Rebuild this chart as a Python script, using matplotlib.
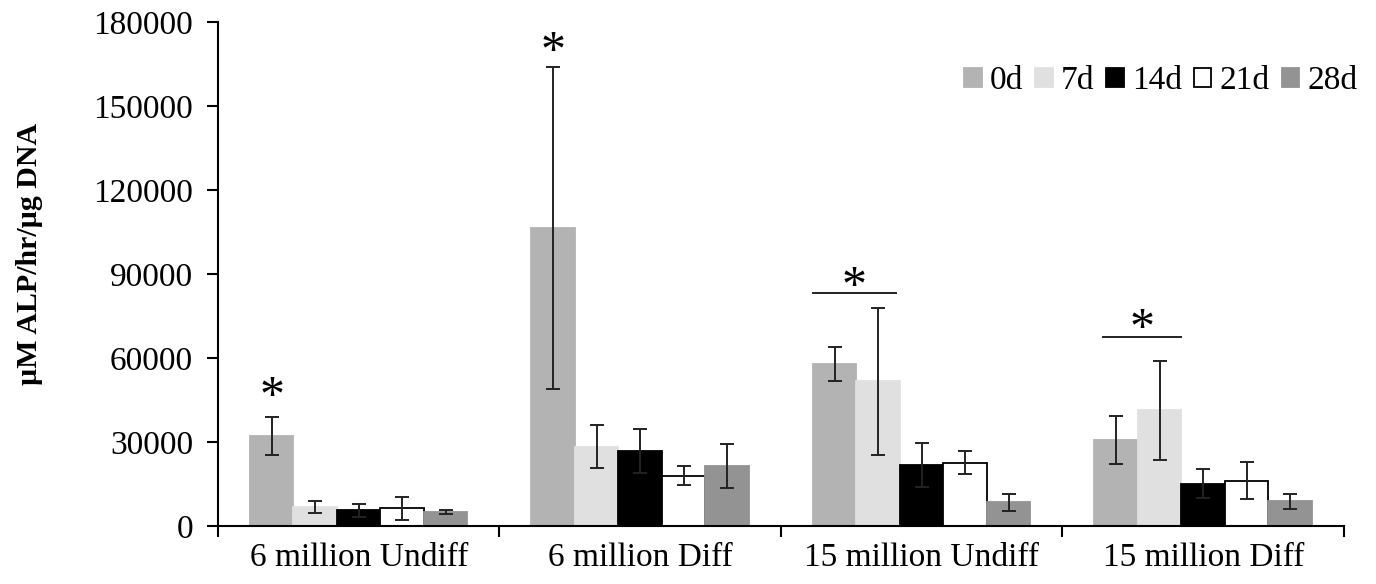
import matplotlib
matplotlib.use("Agg")
import matplotlib.pyplot as plt
import numpy as np

groups = ["6 million Undiff", "6 million Diff", "15 million Undiff", "15 million Diff"]
series = ["0d", "7d", "14d", "21d", "28d"]
vals_0d = [32000, 106500, 57900, 30700]
vals_7d = [6800, 28300, 51700, 41300]
vals_14d = [5600, 26900, 21800, 15100]
vals_21d = [6300, 18000, 22600, 16200]
vals_28d = [5000, 21400, 8500, 8800]
err_0d = [6800, 57500, 6200, 8700]
err_7d = [2100, 7600, 26200, 17800]
err_14d = [2300, 7900, 8000, 5100]
err_21d = [4200, 3500, 4200, 6700]
err_28d = [700, 8000, 3100, 2800]
yticks = [0, 30000, 60000, 90000, 120000, 150000, 180000]

values = [vals_0d, vals_7d, vals_14d, vals_21d, vals_28d]
errors = [err_0d, err_7d, err_14d, err_21d, err_28d]
faces = ["#b3b3b3", "#e0e0e0", "#000000", "#ffffff", "#939393"]
edges = ["#b3b3b3", "#e0e0e0", "#000000", "#000000", "#939393"]

plt.rcParams['font.family'] = ['Liberation Serif', 'DejaVu Serif']
fig = plt.figure(figsize=(13.76, 5.84), dpi=100)
ax = fig.add_axes([0.1584, 0.0993, 0.8183, 0.863])

x = np.arange(len(groups))
w = 0.1545
for i, s in enumerate(series):
    pos = x + (i - 2) * w
    ax.bar(pos, values[i], width=w, color=faces[i], edgecolor=edges[i],
           linewidth=1.3, label=s, zorder=2)
    ax.errorbar(pos, values[i], yerr=errors[i], fmt='none', ecolor='#222222',
                elinewidth=1.4, capsize=5, capthick=1.4, zorder=3)

ax.set_xlim(-0.5, len(groups) - 0.5)
ax.set_ylim(0, 180000)
ax.set_yticks(yticks)
ax.set_yticklabels([str(t) for t in yticks], fontsize=24)
ax.set_xticks(np.arange(len(groups) + 1) - 0.5)
ax.set_xticklabels([])
ax.set_xticks(x, minor=True)
ax.set_xticklabels(groups, minor=True, fontsize=24)
ax.tick_params(axis='x', which='minor', length=0, pad=12)
ax.tick_params(axis='x', which='major', direction='out', length=8, width=1.5)
ax.tick_params(axis='y', direction='out', length=8, width=1.5, pad=10)
for sp in ['top', 'right']:
    ax.spines[sp].set_visible(False)
for sp in ['left', 'bottom']:
    ax.spines[sp].set_linewidth(1.5)

ax.set_ylabel("µM ALP/hr/µg DNA", fontsize=21.5, fontweight='bold')
ax.yaxis.set_label_coords(-0.155, 0.54)

# significance marks
ax.text(x[0] - 2 * w, 37500, "*", fontsize=36, ha='center', va='bottom')
ax.text(x[1] - 2 * w, 160700, "*", fontsize=36, ha='center', va='bottom')
ax.plot([x[2] - 2.5 * w, x[2] - 0.6 * w], [83200, 83200], color='#222222', lw=1.4)
ax.text(x[2] - 1.55 * w, 76800, "*", fontsize=36, ha='center', va='bottom')
ax.plot([x[3] - 2.3 * w, x[3] - 0.5 * w], [67500, 67500], color='#222222', lw=1.4)
ax.text(x[3] - 1.4 * w, 61800, "*", fontsize=36, ha='center', va='bottom')

leg = ax.legend(loc='upper right', bbox_to_anchor=(1.024, 0.94), ncol=5, frameon=False,
                fontsize=24, handlelength=0.52, handleheight=0.52,
                handletextpad=0.25, columnspacing=0.36, borderaxespad=0)

fig.savefig("out.png", dpi=100)
